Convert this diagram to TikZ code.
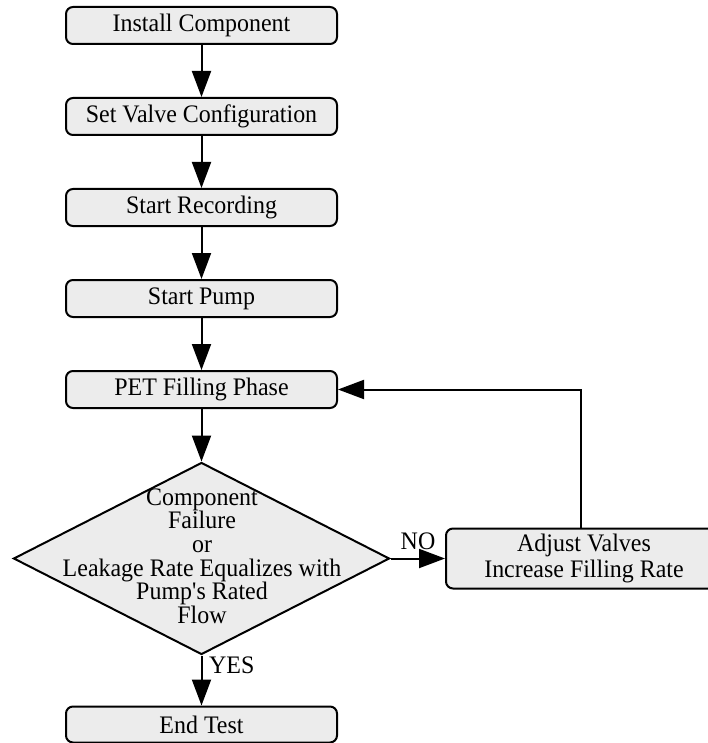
\documentclass[tikz,border=0pt]{standalone}
\usepackage{fontspec}
\setmainfont{Liberation Serif}[FakeStretch=0.95]
\usetikzlibrary{shapes.geometric,arrows.meta}
\definecolor{boxfill}{RGB}{236,236,236}
\begin{document}
\begin{tikzpicture}[x=1pt,y=-1pt,
  font=\fontsize{25.2}{24}\selectfont,
  proc/.style={draw=black,line width=2pt,rounded corners=7pt,fill=boxfill,
    minimum width=271pt,minimum height=37pt,inner sep=0pt},
  decshape/.style={draw=black,line width=2pt,diamond,fill=boxfill,
    minimum width=376pt,minimum height=192pt,inner sep=0pt},
  flow/.style={line width=2pt,-{Triangle[width=19pt,length=26pt]}},
  lbl/.style={inner sep=0pt}]
\useasboundingbox (0,0) rectangle (708,743);
\node[proc] (install) at (201.5,25.5) {Install Component};
\node[proc] (valve) at (201.5,116.5) {Set Valve Configuration};
\node[proc] (rec) at (201.5,207.5) {Start Recording};
\node[proc] (pump) at (201.5,298.5) {Start Pump};
\node[proc] (pet) at (201.5,389.5) {PET Filling Phase};
\node[decshape] (dec) at (201.5,558.5) {};
\node[align=center,inner sep=0pt,font=\fontsize{25.2}{23.6}\selectfont] (dectxt) at (202,556)
  {Component\\Failure\\or\\Leakage Rate Equalizes with\\Pump\textquotesingle s Rated\\Flow};
\node[proc,minimum width=276pt,minimum height=60pt,align=center,
  font=\fontsize{25.2}{26.7}\selectfont] (adj) at (584,558.5) {Adjust Valves\\Increase Filling Rate};
\node[proc,minimum height=36pt] (endt) at (201.5,724.5) {End Test};
\node[lbl,anchor=base] (no) at (418,549) {NO};
\node[lbl,anchor=base west] (yes) at (209,673) {YES};
\draw[flow] (install) -- (valve);
\draw[flow] (valve) -- (rec);
\draw[flow] (rec) -- (pump);
\draw[flow] (pump) -- (pet);
\draw[flow] (pet) -- (dec.north);
\draw[flow] (dec.south) -- (endt);
\draw[flow] (dec.east) -- (adj.west);
\draw[flow] ([xshift=-3pt]adj.north) |- (pet.east);
\end{tikzpicture}
\end{document}
